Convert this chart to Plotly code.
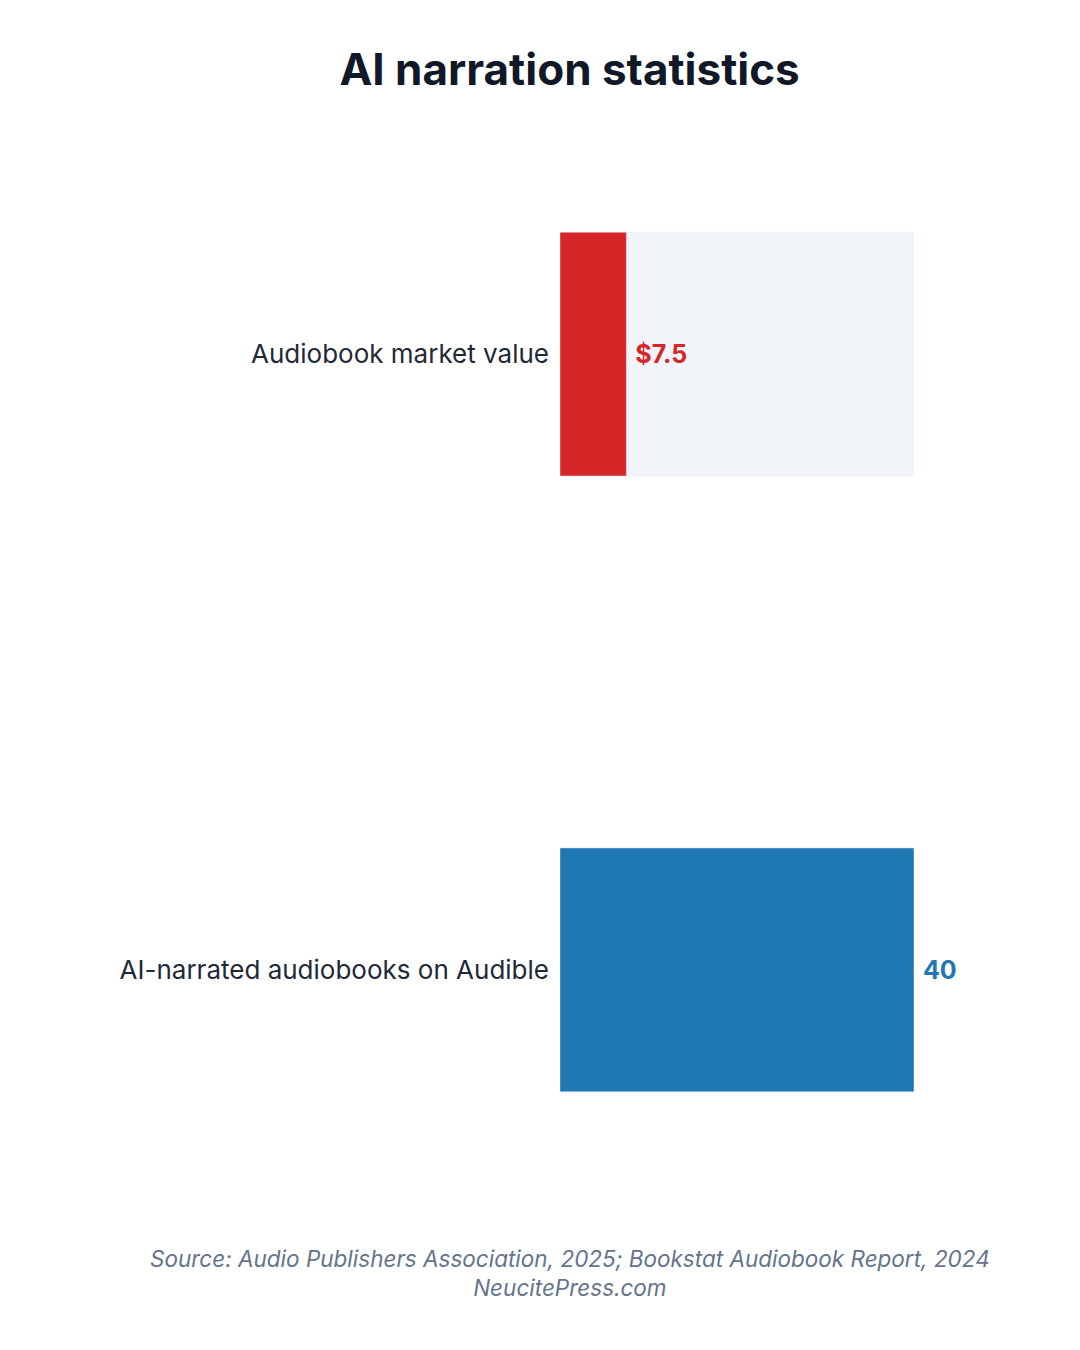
import plotly.graph_objects as go

categories = ["Audiobook market value", "AI-narrated audiobooks on Audible"]
values = [7.5, 40]
labels = ["$7.5", "40"]
colors = ["#d62728", "#1f77b4"]
max_value = 40

fig = go.Figure()

# light background track
fig.add_trace(go.Bar(
    y=categories, x=[max_value] * len(categories), orientation="h",
    marker_color="#f1f4f9", width=0.396, hoverinfo="skip", showlegend=False,
))

fig.add_trace(go.Bar(
    y=categories, x=values, orientation="h",
    marker_color=colors, width=0.396,
    text=[" " + t for t in labels], textposition="outside", cliponaxis=False,
    textfont=dict(family="Inter", size=25, color=colors, weight="bold"),
    showlegend=False,
))

fig.update_layout(
    width=1080, height=1350,
    barmode="overlay",
    plot_bgcolor="white", paper_bgcolor="white",
    font=dict(family="Inter", color="#1f2937"),
    margin=dict(l=552, r=174, t=114, b=156),
    title=dict(text="<b>AI narration statistics</b>", x=0.52, xanchor="center",
               y=0.966, font=dict(size=44, color="#111827")),
    xaxis=dict(range=[0, max_value], visible=False),
    yaxis=dict(autorange=False, range=[1.377, -0.377], showgrid=False,
               tickfont=dict(size=26, color="#1f2937"), ticks="", ticklabelstandoff=10),
)

fig.add_annotation(
    text="<i>Source: Audio Publishers Association, 2025; Bookstat Audiobook Report, 2024</i><br><i>NeucitePress.com</i>",
    xref="paper", yref="paper", x=(570 - 560) / 354, y=-0.038, xanchor="center", yanchor="top",
    showarrow=False, font=dict(size=22.5, color="#64748b"), align="center",
)

fig.write_html("out.html")
